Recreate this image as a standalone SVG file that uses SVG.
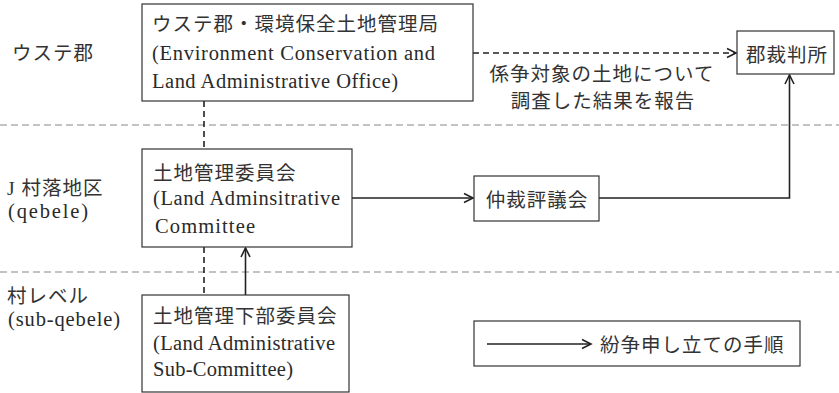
<svg xmlns="http://www.w3.org/2000/svg" width="839" height="393" viewBox="0 0 839 393">
<defs>
<marker id="arr" markerWidth="12" markerHeight="12" refX="10" refY="5" orient="auto" markerUnits="userSpaceOnUse" viewBox="0 0 12 10">
<path d="M1,0.5 L10,5 L1,9.5" fill="none" stroke="#222" stroke-width="1.6"/>
</marker>
</defs>
<style>
.bg{fill:#fff}
.box{fill:#fff;stroke:#333;stroke-width:1.2}
.t{font-family:"Liberation Serif","Noto Sans CJK JP",serif;font-size:19.5px;letter-spacing:1px;fill:#333}
.e{font-family:"Liberation Serif","Noto Sans CJK JP",serif;font-size:20.5px;fill:#2a2a2a}
.div{stroke:#888;stroke-width:1.2;stroke-dasharray:7 4;fill:none}
.vd{stroke:#222;stroke-width:1.6;stroke-dasharray:6 4;fill:none}
.ln{stroke:#222;stroke-width:1.6;fill:none}
.dl{stroke:#222;stroke-width:1.6;stroke-dasharray:6 4;fill:none}
</style>
<rect class="bg" x="0" y="0" width="839" height="393"/>
<g id="dividers">
<line class="div" x1="0" y1="125" x2="839" y2="125"/>
<line class="div" x1="0" y1="272" x2="839" y2="272"/>
</g>
<g id="labels">
<text class="t" x="12" y="60">ウステ郡</text>
<text class="t" x="7" y="195">J 村落地区</text>
<text class="e" x="8" y="218" textLength="80" lengthAdjust="spacing">(qebele)</text>
<text class="t" x="7" y="303">村レベル</text>
<text class="e" x="8" y="326" textLength="112" lengthAdjust="spacing">(sub-qebele)</text>
</g>
<g id="connectors">
<line class="vd" x1="204" y1="101" x2="204" y2="149"/>
<line class="vd" x1="204" y1="247" x2="204" y2="295"/>
<line class="ln" x1="245.5" y1="295" x2="245.5" y2="248" marker-end="url(#arr)"/>
<line class="dl" x1="473" y1="53" x2="736" y2="53" marker-end="url(#arr)"/>
<line class="ln" x1="352" y1="198" x2="473" y2="198" marker-end="url(#arr)"/>
<polyline class="ln" points="599,198 789.5,198 789.5,75" marker-end="url(#arr)"/>
<text class="t" x="602" y="81" text-anchor="middle">係争対象の土地について</text>
<text class="t" x="603" y="108" text-anchor="middle">調査した結果を報告</text>
</g>
<g id="office">
<rect class="box" x="142" y="4" width="331" height="97"/>
<text class="t" x="152" y="31">ウステ郡・環境保全土地管理局</text>
<text class="e" x="152" y="60" textLength="283" lengthAdjust="spacing">(Environment Conservation and</text>
<text class="e" x="152" y="88" textLength="246" lengthAdjust="spacing">Land Administrative Office)</text>
</g>
<g id="court">
<rect class="box" x="737" y="31" width="97" height="43"/>
<text class="t" x="787" y="62" text-anchor="middle">郡裁判所</text>
</g>
<g id="committee">
<rect class="box" x="142" y="149" width="210" height="98"/>
<text class="t" x="153" y="180">土地管理委員会</text>
<text class="e" x="153" y="205" textLength="187" lengthAdjust="spacing">(Land Adminsitrative</text>
<text class="e" x="155" y="233" textLength="100" lengthAdjust="spacing">Committee</text>
</g>
<g id="arbitration">
<rect class="box" x="474" y="176" width="125" height="45"/>
<text class="t" x="537" y="207" text-anchor="middle">仲裁評議会</text>
</g>
<g id="subcommittee">
<rect class="box" x="142" y="295" width="207" height="97"/>
<text class="t" x="153" y="323">土地管理下部委員会</text>
<text class="e" x="153" y="350" textLength="182" lengthAdjust="spacing">(Land Administrative</text>
<text class="e" x="153" y="376" textLength="140" lengthAdjust="spacing">Sub-Committee)</text>
</g>
<g id="legend">
<rect class="box" x="474" y="321" width="326" height="45"/>
<line class="ln" x1="487" y1="344" x2="591" y2="344" marker-end="url(#arr)"/>
<text class="t" x="600" y="352">紛争申し立ての手順</text>
</g>
</svg>
